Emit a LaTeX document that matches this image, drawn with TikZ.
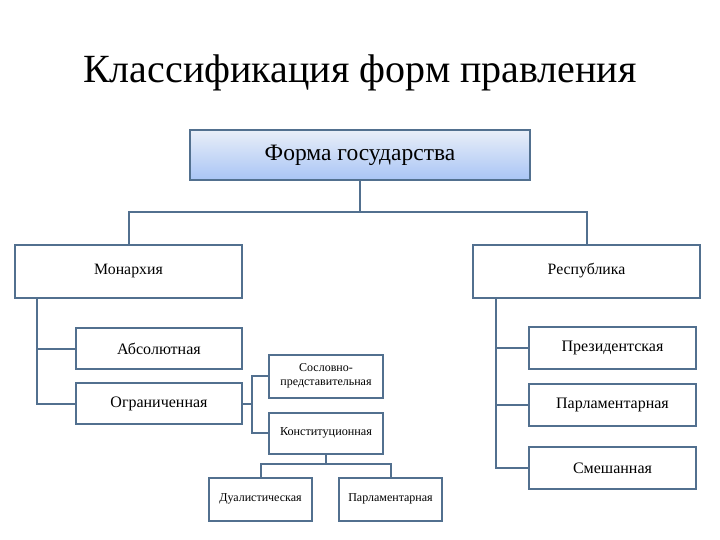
\documentclass[tikz,border=0pt]{standalone}
\usepackage{fontspec}
\setmainfont{Liberation Serif}
\definecolor{lc}{HTML}{52708F}
\definecolor{gtop}{RGB}{232,238,248}
\definecolor{gbot}{RGB}{168,196,245}
\begin{document}
\begin{tikzpicture}[x=1pt,y=-1pt,
  box/.style={draw=lc, line width=2pt, fill=white, inner sep=1pt, align=center},
  conn/.style={draw=lc, line width=2pt}]
\useasboundingbox (0,0) rectangle (720,540);
\node (title) at (360,73) {\fontsize{40}{44}\selectfont Классификация форм правления};
\node[box, minimum width=340pt, minimum height=50pt, top color=gtop, bottom color=gbot, shading angle=0,
  font=\fontsize{23.5}{26}\selectfont] (fg) at (360,155.5) {Форма государства};
\node[box, minimum width=227pt, minimum height=53pt, font=\fontsize{15.8}{18}\selectfont] (mon) at (128.5,271) {Монархия};
\node[box, minimum width=227pt, minimum height=53pt, font=\fontsize{15.8}{18}\selectfont] (rep) at (586.5,271) {Республика};
\node[box, minimum width=166pt, minimum height=41pt, font=\fontsize{16}{18}\selectfont] (abs) at (159,348.5) {Абсолютная};
\node[box, minimum width=166pt, minimum height=41pt, font=\fontsize{16}{18}\selectfont] (ogr) at (159,403.5) {Ограниченная};
\node[box, minimum width=167pt, minimum height=42pt, font=\fontsize{16}{18}\selectfont] (pres) at (612.5,348) {Президентская};
\node[box, minimum width=167pt, minimum height=42pt, font=\fontsize{16}{18}\selectfont] (parl) at (612.5,405) {Парламентарная};
\node[box, minimum width=167pt, minimum height=42pt, font=\fontsize{16}{18}\selectfont] (mix) at (612.5,468) {Смешанная};
\node[box, minimum width=114pt, minimum height=43pt, font=\fontsize{12}{13.5}\selectfont] (sos) at (326,376) {Сословно-\\представительная};
\node[box, minimum width=114pt, minimum height=41pt, font=\fontsize{12.2}{14}\selectfont] (kon) at (326,433) {Конституционная};
\node[box, minimum width=103pt, minimum height=43pt, font=\fontsize{12}{14}\selectfont] (dua) at (260.5,499) {Дуалистическая};
\node[box, minimum width=103pt, minimum height=43pt, font=\fontsize{12}{14}\selectfont] (par2) at (390.5,499) {Парламентарная};
\coordinate (bus) at (360,212);
\coordinate (mv) at (37,297);
\coordinate (rv) at (496,297);
\coordinate (ov) at (252,403.5);
\coordinate (kb) at (326,464);
\draw[conn] (fg.south) -- (bus);
\draw[conn] (mon.north) |- (bus) -| (rep.north);
\draw[conn] (mv) |- (abs.west);
\draw[conn] (mv) |- (ogr.west);
\draw[conn] (rv) |- (pres.west);
\draw[conn] (rv) |- (parl.west);
\draw[conn] (rv) |- (mix.west);
\draw[conn] (ogr.east) -- (ov);
\draw[conn] (ov) |- (sos.west);
\draw[conn] (ov) |- (kon.west);
\draw[conn] (kon.south) -- (kb);
\draw[conn] (dua.north) |- (kb) -| (par2.north);
\end{tikzpicture}
\end{document}
